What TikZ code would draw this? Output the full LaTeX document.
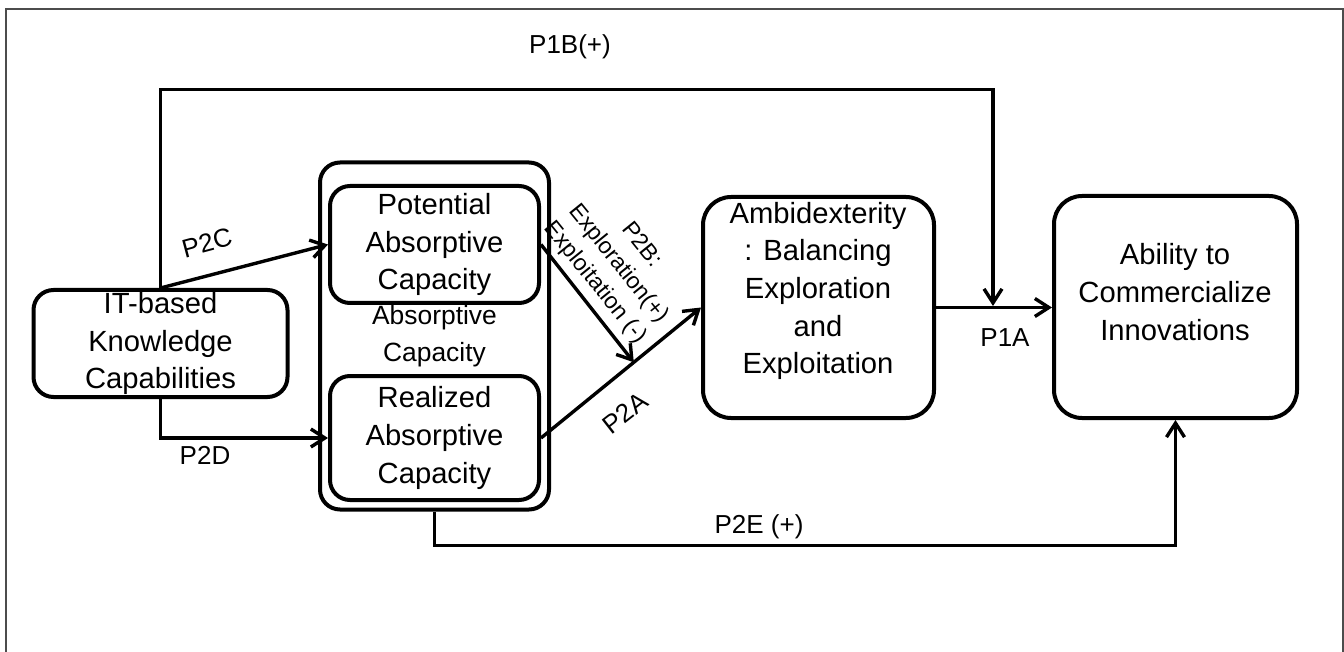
\documentclass[tikz,border=0pt]{standalone}
\usepackage{fontspec}
\setmainfont{Liberation Sans}
\usetikzlibrary{
  arrows.meta,
  calc
}

\begin{document}
\begin{tikzpicture}[
x=0.5pt, y=-0.5pt,
box/.style={
draw=black,
line width=2pt,
rounded corners=10pt,
inner sep=0pt,
align=center,
font=\fontsize{14.6}{18.8}\selectfont
},
bigbox/.style={box, rounded corners=14pt},
txt/.style={align=center, inner sep=0pt, font=\fontsize{14.6}{18.8}\selectfont},
lbl/.style={inner sep=0pt, font=\fontsize{13}{16}\selectfont},
arrow/.style={-{Straight Barb[length=7pt,width=9pt]}, line width=1.7pt}
]

\useasboundingbox (0,0) rectangle (1344,652);

% Frame
\draw[black!70, line width=1pt] (6,660) -- (6,9.5) -- (1342.5,9.5) -- (1342.5,660);

% Left box
\node[box, minimum width=127pt, minimum height=53.5pt] (it) at (160.5,343.5) {
IT-based\\Knowledge\\Capabilities
};

% Absorptive capacity group
\node[box, minimum width=114.5pt, minimum height=173.5pt,
      font=\fontsize{13.2}{18.5}\selectfont] (acap) at (434.5,336) {
Absorptive\\Capacity
};
\node[box, minimum width=104.5pt, minimum height=58.5pt] (pot) at (434.5,244.5) {
Potential\\Absorptive\\Capacity
};
\node[box, minimum width=104.5pt, minimum height=62pt] (real) at (434.5,438) {
Realized\\Absorptive\\Capacity
};

% Ambidexterity
\node[bigbox, minimum width=115.5pt, minimum height=110.5pt] (ambi) at (818.5,307.5) {};
\node[txt] (ambitext) at (818,291) {
Ambidexterity\\: Balancing\\Exploration\\and\\Exploitation
};

% Outcome
\node[bigbox, minimum width=121.5pt, minimum height=111pt] (abil) at (1175.5,307) {};
\node[txt] (abiltext) at (1175,292) {
Ability to\\Commercialize\\Innovations
};

% Helper points
\coordinate (p1btop) at (993,89.5);
\coordinate (p1bjoin) at (993,306);
\coordinate (p2bend) at ($(real.east)!0.58!(ambi.west)$);

% Arrows
\draw[arrow] (it.north) |- (p1btop) -- (p1bjoin);
\draw[arrow] (ambi.east) -- (abil.west |- ambi.east);
\draw[arrow] (it.north) -- (pot.west);
\draw[arrow] (it.south) |- (real.west);
\draw[arrow] (real.east) -- (ambi.west);
\draw[arrow] (pot.east) -- (p2bend);
\draw[arrow] (acap.south) -- ++(0,34) -| (abil.south);

% Labels
\node[lbl] (p1blabel) at (570,47) {P1B(+)};
\node[lbl, rotate=15] (p2clabel) at (207,243) {P2C};
\node[lbl] (p2dlabel) at (205,455) {P2D};
\node[lbl, rotate=-51, align=center, font=\fontsize{11.5}{15}\selectfont] (p2blabel) at (618,264) {
P2B:\\Exploration(+)\\Exploitation (-)
};
\node[lbl, rotate=38] (p2alabel) at (625,413) {P2A};
\node[lbl] (p1alabel) at (1005,338) {P1A};
\node[lbl] (p2elabel) at (759,527) {P2E (+)};

\end{tikzpicture}
\end{document}
